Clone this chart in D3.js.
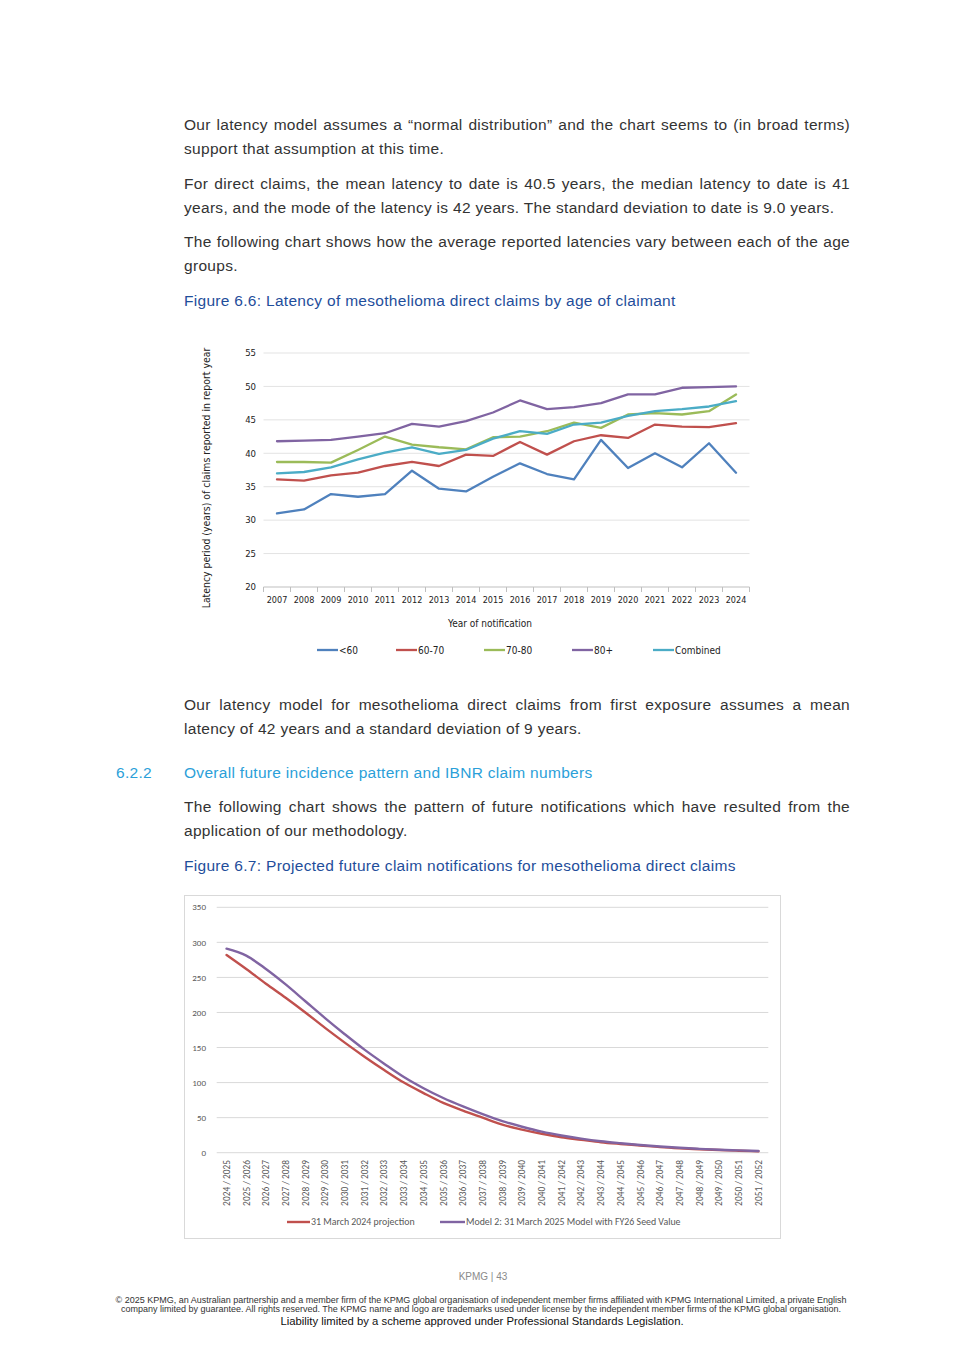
<!DOCTYPE html>
<html>
<head>
<meta charset="utf-8">
<script src="https://cdn.jsdelivr.net/npm/d3@7"></script>
<style>
body { margin:0; background:#fff; width:965px; height:1365px; position:relative; overflow:hidden;
       font-family:"Liberation Sans", Arial, sans-serif; }
.ln { position:absolute; left:184px; width:666px; height:24px; line-height:24px; font-size:15.5px; letter-spacing:0.3px; color:#333; white-space:nowrap; }
.j { text-align:justify; text-align-last:justify; }
.cap { color:#1f4e9b; }
.head { color:#2b9fd9; }
svg { position:absolute; left:0; top:0; }
</style>
</head>
<body>
<script>
// page text, line by line (so the justified lines break like the original)
var textLines = [
  {y:125, t:"Our latency model assumes a \u201cnormal distribution\u201d and the chart seems to (in broad terms)", c:"j"},
  {y:149, t:"support that assumption at this time.", c:""},
  {y:184, t:"For direct claims, the mean latency to date is 40.5 years, the median latency to date is 41", c:"j"},
  {y:208, t:"years, and the mode of the latency is 42 years. The standard deviation to date is 9.0 years.", c:""},
  {y:242, t:"The following chart shows how the average reported latencies vary between each of the age", c:"j"},
  {y:266, t:"groups.", c:""},
  {y:301, t:"Figure 6.6: Latency of mesothelioma direct claims by age of claimant", c:"cap"},
  {y:705, t:"Our latency model for mesothelioma direct claims from first exposure assumes a mean", c:"j"},
  {y:729, t:"latency of 42 years and a standard deviation of 9 years.", c:""},
  {y:773, t:"Overall future incidence pattern and IBNR claim numbers", c:"head"},
  {y:807, t:"The following chart shows the pattern of future notifications which have resulted from the", c:"j"},
  {y:831, t:"application of our methodology.", c:""},
  {y:866, t:"Figure 6.7: Projected future claim notifications for mesothelioma direct claims", c:"cap"}
];

// Figure 6.6 data
var years = ["2007","2008","2009","2010","2011","2012","2013","2014","2015","2016","2017","2018","2019","2020","2021","2022","2023","2024"];
var under60  = [31.0,31.6,33.9,33.5,33.9,37.4,34.7,34.3,36.5,38.5,36.9,36.1,42.0,37.8,40.0,37.9,41.5,37.1];
var age6070  = [36.1,35.9,36.7,37.1,38.1,38.7,38.1,39.8,39.6,41.7,39.8,41.8,42.7,42.3,44.3,44.0,43.9,44.5];
var age7080  = [38.7,38.7,38.6,40.5,42.5,41.3,40.9,40.6,42.4,42.5,43.3,44.6,43.8,45.8,46.0,45.8,46.3,48.8];
var age80    = [41.8,41.9,42.0,42.5,43.0,44.4,44.0,44.8,46.1,47.9,46.6,46.9,47.5,48.8,48.8,49.8,49.9,50.0];
var combined = [37.0,37.2,37.9,39.1,40.1,40.9,39.9,40.5,42.2,43.3,42.9,44.3,44.6,45.6,46.3,46.6,47.0,47.8];
var series1Names = ["<60","60-70","70-80","80+","Combined"];
var series1 = [under60, age6070, age7080, age80, combined];
var colors1 = ["#4f81bd","#c0504d","#9bbb59","#8064a2","#4bacc6"];
var yTicks1 = [20,25,30,35,40,45,50,55];

// Figure 6.7 data
var periods = ["2024 / 2025","2025 / 2026","2026 / 2027","2027 / 2028","2028 / 2029","2029 / 2030","2030 / 2031",
  "2031 / 2032","2032 / 2033","2033 / 2034","2034 / 2035","2035 / 2036","2036 / 2037","2037 / 2038","2038 / 2039",
  "2039 / 2040","2040 / 2041","2041 / 2042","2042 / 2043","2043 / 2044","2044 / 2045","2045 / 2046","2046 / 2047",
  "2047 / 2048","2048 / 2049","2049 / 2050","2050 / 2051","2051 / 2052"];
var proj2024 = [282,262,241,221,200,178,157,137,118,100,85,71,60,50,40,33,27,22,18.5,15,12.5,10.3,8,6.3,5,3.8,2.8,2];
var model2   = [291,281,262,240,216,192,169,147,127,108,92,78,66,55,45,37,30,24.5,20,16.3,13.5,11,8.8,7,5.5,4.2,3.3,2.5];
var series2Names = ["31 March 2024 projection","Model 2: 31 March 2025 Model with FY26 Seed Value"];
var series2 = [proj2024, model2];
var colors2 = ["#c0504d","#8064a2"];
var yTicks2 = [0,50,100,150,200,250,300,350];

var body = d3.select("body");

body.selectAll("div.ln").data(textLines).enter().append("div")
  .attr("class", function(d) { return "ln " + d.c; })
  .style("top", function(d) { return (d.y - 12) + "px"; })
  .text(function(d) { return d.t; });

body.append("div").attr("class","ln head").style("left","116px").style("width","60px")
  .style("top", (773-12) + "px").text("6.2.2");

var svg = body.append("svg").attr("width", 965).attr("height", 1365);

/************** Figure 6.6 **************/
var narrow = "'Liberation Sans Narrow','DejaVu Sans Condensed',Arial,sans-serif";
var g1 = svg.append("g").style("font-family", narrow);
var x1 = d3.scaleBand().domain(years).range([263.5, 749.5]);
var y1 = d3.scaleLinear().domain([20, 55]).range([587, 353]);

g1.selectAll("line.grid").data(yTicks1).enter().append("line")
  .attr("x1", x1.range()[0]).attr("x2", x1.range()[1])
  .attr("y1", function(d) { return y1(d); }).attr("y2", function(d) { return y1(d); })
  .attr("stroke", function(d) { return d == 20 ? "#bfbfbf" : "#e3e3e3"; }).attr("stroke-width", 1);

g1.selectAll("text.yt").data(yTicks1).enter().append("text")
  .attr("x", 256).attr("y", function(d) { return y1(d); }).attr("dy", "0.35em")
  .attr("text-anchor", "end").attr("font-size", 9.5).attr("fill", "#222")
  .text(function(d) { return d; });

// category tick marks on band edges
g1.selectAll("line.xt").data(years.concat(["end"])).enter().append("line")
  .attr("x1", function(d, i) { return x1.range()[0] + i * x1.step(); })
  .attr("x2", function(d, i) { return x1.range()[0] + i * x1.step(); })
  .attr("y1", 587).attr("y2", 592).attr("stroke", "#bfbfbf");

g1.selectAll("text.xl").data(years).enter().append("text")
  .attr("x", function(d) { return x1(d) + x1.bandwidth()/2; }).attr("y", 603)
  .attr("text-anchor", "middle").attr("font-size", 9).attr("fill", "#222")
  .text(function(d) { return d; });

g1.append("text").attr("x", 490).attr("y", 627).attr("text-anchor", "middle")
  .attr("font-size", 10).attr("fill", "#222").text("Year of notification");

g1.append("text").attr("transform", "translate(210,478) rotate(-90)").attr("text-anchor", "middle")
  .attr("font-size", 10.4).attr("fill", "#222")
  .text("Latency period (years) of claims reported in report year");

var line1 = d3.line()
  .x(function(d, i) { return x1(years[i]) + x1.bandwidth()/2; })
  .y(function(d) { return y1(d); });

g1.selectAll("path.s").data(series1).enter().append("path")
  .attr("d", line1).attr("fill", "none")
  .attr("stroke", function(d, i) { return colors1[i]; })
  .attr("stroke-width", 2.3).attr("stroke-linejoin", "round").attr("stroke-linecap", "round");

var leg1X = [317, 396, 484, 572, 653];
var leg1 = g1.selectAll("g.leg").data(series1Names).enter().append("g")
  .attr("transform", function(d, i) { return "translate(" + leg1X[i] + ",650)"; });
leg1.append("line").attr("x1", 0).attr("x2", 21).attr("stroke-width", 2.3)
  .attr("stroke", function(d, i) { return colors1[i]; });
leg1.append("text").attr("x", 22).attr("dy", "0.35em").attr("font-size", 10).attr("fill", "#222")
  .text(function(d) { return d; });

/************** Figure 6.7 **************/
var calib = "Carlito, Lato, 'Open Sans', sans-serif";
var g2 = svg.append("g").style("font-family", calib);
g2.append("rect").attr("x", 184.5).attr("y", 895.5).attr("width", 596).attr("height", 343)
  .attr("fill", "none").attr("stroke", "#d9d9d9");

var x2 = d3.scaleBand().domain(periods).range([216.7, 768.3]);
var y2 = d3.scaleLinear().domain([0, 350]).range([1152.7, 907.3]);

g2.selectAll("line.grid").data(yTicks2).enter().append("line")
  .attr("x1", x2.range()[0]).attr("x2", x2.range()[1])
  .attr("y1", function(d) { return y2(d); }).attr("y2", function(d) { return y2(d); })
  .attr("stroke", "#d9d9d9").attr("stroke-width", 1);

g2.selectAll("text.yt").data(yTicks2).enter().append("text")
  .attr("x", 206).attr("y", function(d) { return y2(d); }).attr("dy", "0.35em")
  .attr("text-anchor", "end").attr("font-size", 9).attr("fill", "#595959")
  .text(function(d) { return d; });

g2.selectAll("text.xl").data(periods).enter().append("text")
  .attr("transform", function(d) { return "translate(" + (x2(d) + x2.bandwidth()/2) + ",1160) rotate(-90)"; })
  .attr("dy", "0.35em").attr("text-anchor", "end").attr("font-size", 9.4).attr("fill", "#595959")
  .text(function(d) { return d; });

var line2 = d3.line()
  .x(function(d, i) { return x2(periods[i]) + x2.bandwidth()/2; })
  .y(function(d) { return y2(d); })
  .curve(d3.curveMonotoneX);

g2.selectAll("path.s").data(series2).enter().append("path")
  .attr("d", line2).attr("fill", "none")
  .attr("stroke", function(d, i) { return colors2[i]; })
  .attr("stroke-width", 2.4).attr("stroke-linecap", "round");

var leg2X = [287, 440];
var leg2 = g2.selectAll("g.leg").data(series2Names).enter().append("g")
  .attr("transform", function(d, i) { return "translate(" + leg2X[i] + ",1222)"; });
leg2.append("line").attr("x1", 0).attr("x2", function(d, i) { return i ? 25 : 23; }).attr("stroke-width", 2.4)
  .attr("stroke", function(d, i) { return colors2[i]; });
leg2.append("text").attr("x", function(d, i) { return i ? 26 : 24; }).attr("dy", "0.35em")
  .attr("font-size", 9.9).attr("fill", "#595959").text(function(d) { return d; });

/************** footer **************/
var foot = svg.append("g").style("font-family", "'Liberation Sans Narrow','Liberation Sans',Arial,sans-serif");
foot.append("text").attr("x", 483).attr("y", 1280).attr("text-anchor", "middle")
  .attr("font-size", 10).attr("fill", "#8a8a8a").text("KPMG  |  43");
foot.append("text").attr("x", 481).attr("y", 1303).attr("text-anchor", "middle")
  .attr("font-size", 9).attr("fill", "#333")
  .text("\u00a9 2025 KPMG, an Australian partnership and a member firm of the KPMG global organisation of independent member firms affiliated with KPMG International Limited, a private English");
foot.append("text").attr("x", 481).attr("y", 1312).attr("text-anchor", "middle")
  .attr("font-size", 9).attr("fill", "#333")
  .text("company limited by guarantee. All rights reserved. The KPMG name and logo are trademarks used under license by the independent member  firms of the KPMG global organisation.");
foot.append("text").attr("x", 482).attr("y", 1325).attr("text-anchor", "middle")
  .style("font-family", "'Liberation Sans',Arial,sans-serif")
  .attr("font-size", 11.3).attr("fill", "#111")
  .text("Liability limited by a scheme approved under Professional Standards Legislation.");
</script>
</body>
</html>
